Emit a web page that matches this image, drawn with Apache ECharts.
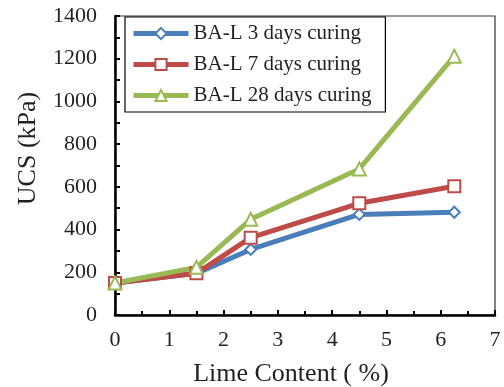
<!DOCTYPE html>
<html>
<head>
<meta charset="utf-8">
<script src="https://cdn.jsdelivr.net/npm/echarts@6/dist/echarts.min.js"></script>
<style>
  html, body { margin: 0; padding: 0; background: #fff; }
  #chart { width: 504px; height: 387px; }
</style>
</head>
<body>
<div id="chart"></div>
<script>
// lime content (%)
var limeContent = [0, 1.5, 2.5, 4.5, 6.25]
// UCS values (kPa)
var days3 = [150, 195, 307, 471, 481]
var days7 = [150, 195, 362, 523, 603]
var days28 = [150, 223, 448, 684, 1212]
var seriesNames = ['BA-L 3 days curing', 'BA-L 7 days curing', 'BA-L 28 days curing']

var font = 'Liberation Serif, Times New Roman, serif'
var ink = '#231f20'

function pairs(ys) {
  return limeContent.map(function (x, i) { return [x, ys[i]] })
}

function makeSeries(name, ys, color, symbol, size) {
  return {
    name: name,
    type: 'line',
    data: pairs(ys),
    symbol: symbol,
    symbolSize: size,
    showSymbol: true,
    lineStyle: { color: color, width: 5 },
    itemStyle: { color: color, borderColor: color, borderWidth: 2 },
    emphasis: { disabled: true },
  }
}

var chart = echarts.init(document.getElementById('chart'))

var option = {
  animation: false,
  grid: {
    left: 115,
    right: 9,
    top: 16,
    bottom: 72,
    outerBoundsMode: 'none',
    show: true,
    borderColor: '#333',
    borderWidth: 1.2,
  },
  legend: {
    orient: 'vertical',
    left: 125,
    top: 17,
    data: seriesNames,
    itemWidth: 55,
    itemHeight: 14,
    itemGap: 10,
    padding: [6, 14, 6, 6],
    borderColor: '#000',
    borderWidth: 1.2,
    lineStyle: { width: 5 },
    textStyle: { fontFamily: font, fontSize: 21, color: ink },
  },
  xAxis: {
    type: 'value',
    min: 0,
    max: 7,
    interval: 1,
    name: 'Lime Content ( %)',
    nameLocation: 'middle',
    nameGap: 46,
    nameTextStyle: { fontFamily: font, fontSize: 26, color: ink, padding: [0, 28, 0, 0] },
    axisLine: { show: true, lineStyle: { color: '#000', width: 2.5 } },
    axisTick: { show: true, inside: true, length: 5, lineStyle: { color: '#000', width: 2 } },
    minorTick: { show: true, splitNumber: 2, length: 4, lineStyle: { color: '#000', width: 2 } },
    axisLabel: { fontFamily: font, fontSize: 22, color: ink, margin: 14 },
    splitLine: { show: false },
  },
  yAxis: {
    type: 'value',
    min: 0,
    max: 1400,
    interval: 200,
    name: 'UCS (kPa)',
    nameLocation: 'middle',
    nameGap: 74,
    nameTextStyle: { fontFamily: font, fontSize: 26, color: ink, padding: [0, 0, 0, 34] },
    axisLine: { show: true, lineStyle: { color: '#000', width: 2.5 } },
    axisTick: { show: true, inside: true, length: 5, lineStyle: { color: '#000', width: 2 } },
    minorTick: { show: true, splitNumber: 2, length: 5, lineStyle: { color: '#000', width: 2 } },
    axisLabel: {
      fontFamily: font, fontSize: 22, color: ink, margin: 18,
      formatter: function (v) { return String(v) },
    },
    splitLine: { show: false },
  },
  series: [
    makeSeries(seriesNames[0], days3, '#4a7ebb', 'emptyDiamond', 11),
    makeSeries(seriesNames[1], days7, '#be4b48', 'emptyRect', 12),
    makeSeries(seriesNames[2], days28, '#98b954', 'emptyTriangle', 13),
  ],
}

chart.setOption(option)
</script>
</body>
</html>
